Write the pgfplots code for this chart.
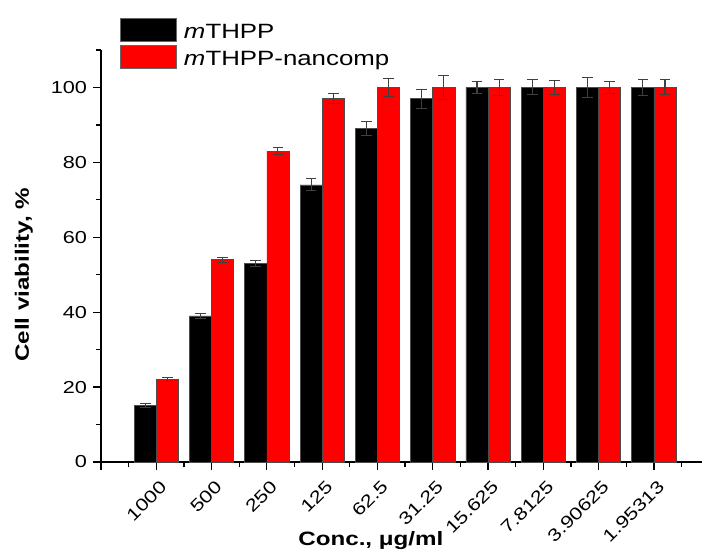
\documentclass[border=0pt]{standalone}
\usepackage{fontspec}
\setmainfont{Liberation Sans}[FakeStretch=1.25]
\usepackage{pgfplots}
\pgfplotsset{compat=1.18}

\begin{document}
\begin{tikzpicture}
\begin{axis}[
    scale only axis,
    width=450.75pt, height=309pt,
    ybar=0pt, bar width=0.4,
    xmin=0, xmax=10.87,
    ymin=0, ymax=110,
    axis x line*=bottom,
    axis y line*=left,
    axis line style={line width=0.9pt, -},
    tick align=outside,
    tick style={line width=0.9pt, black},
    major tick length=6pt,
    minor tick length=4pt,
    xtick={0,...,10},
    xticklabels={,1000,500,250,125,62.5,31.25,15.625,7.8125,3.90625,1.95313},
    minor xtick={0.5,1.5,...,10.5},
    ytick={0,20,...,100},
    yticklabels={0,20,40,60,80,100},
    minor ytick={10,30,...,110},
    x tick label style={rotate=45, anchor=north east, yshift=-3pt, font=\fontsize{13}{14}\selectfont},
    y tick label style={font=\fontsize{13}{14}\selectfont, xshift=-1pt},
    xlabel={\bfseries Conc., μg/ml},
    ylabel={\bfseries Cell viability, \%},
    xlabel style={font=\fontsize{14.5}{16}\selectfont, at={(axis description cs:0.449,-0.19)}, anchor=center},
    ylabel style={font=\fontsize{14.5}{16}\selectfont, at={(axis description cs:-0.1283,0.4545)}, anchor=center},
    legend style={draw=none, fill=none, at={(0.0316,1.0793)}, anchor=north west,
        font=\fontsize{15.5}{17}\selectfont, row sep=2pt, column sep=5pt, inner sep=0pt,
        nodes={inner sep=0pt, anchor=base west}},
    legend cell align=left,
]
\addplot+[fill=black, draw=black!70, line width=0.5pt,
    legend image code/.code={\draw[fill=black, draw=black!60, line width=0.8pt] (0pt,-2.5pt) rectangle (42pt,15pt);},
    error bars/.cd, y dir=both, y explicit,
    error bar style={black!75, line width=0.8pt},
    error mark options={black!75, rotate=90, mark size=4pt, line width=0.8pt}]
coordinates {
    (1,15) +- (0,0.5)
    (2,39) +- (0,0.6)
    (3,53) +- (0,0.7)
    (4,74) +- (0,1.6)
    (5,89) +- (0,1.8)
    (6,97) +- (0,2.5)
    (7,100) +- (0,1.5)
    (8,100) +- (0,2.0)
    (9,100) +- (0,2.7)
    (10,100) +- (0,2.2)
};
\addlegendentry{\textit{m}THPP}

\addplot+[fill=red, draw=black!70, line width=0.5pt,
    legend image code/.code={\draw[fill=red, draw=black!60, line width=0.8pt] (0pt,-2.5pt) rectangle (42pt,15pt);},
    error bars/.cd, y dir=both, y explicit,
    error bar style={black!75, line width=0.8pt},
    error mark options={black!75, rotate=90, mark size=4pt, line width=0.8pt}]
coordinates {
    (1,22) +- (0,0.6)
    (2,54) +- (0,0.7)
    (3,83) +- (0,1.0)
    (4,97) +- (0,1.4)
    (5,100) +- (0,2.3)
    (6,100) +- (0,3.1)
    (7,100) +- (0,2.2)
    (8,100) +- (0,1.9)
    (9,100) +- (0,1.7)
    (10,100) +- (0,2.0)
};
\addlegendentry{\textit{m}THPP-nancomp}
\end{axis}
\pgfresetboundingbox
\useasboundingbox (-75.75pt,-66pt) rectangle (450.75pt,346.5pt);
\end{tikzpicture}
\end{document}
